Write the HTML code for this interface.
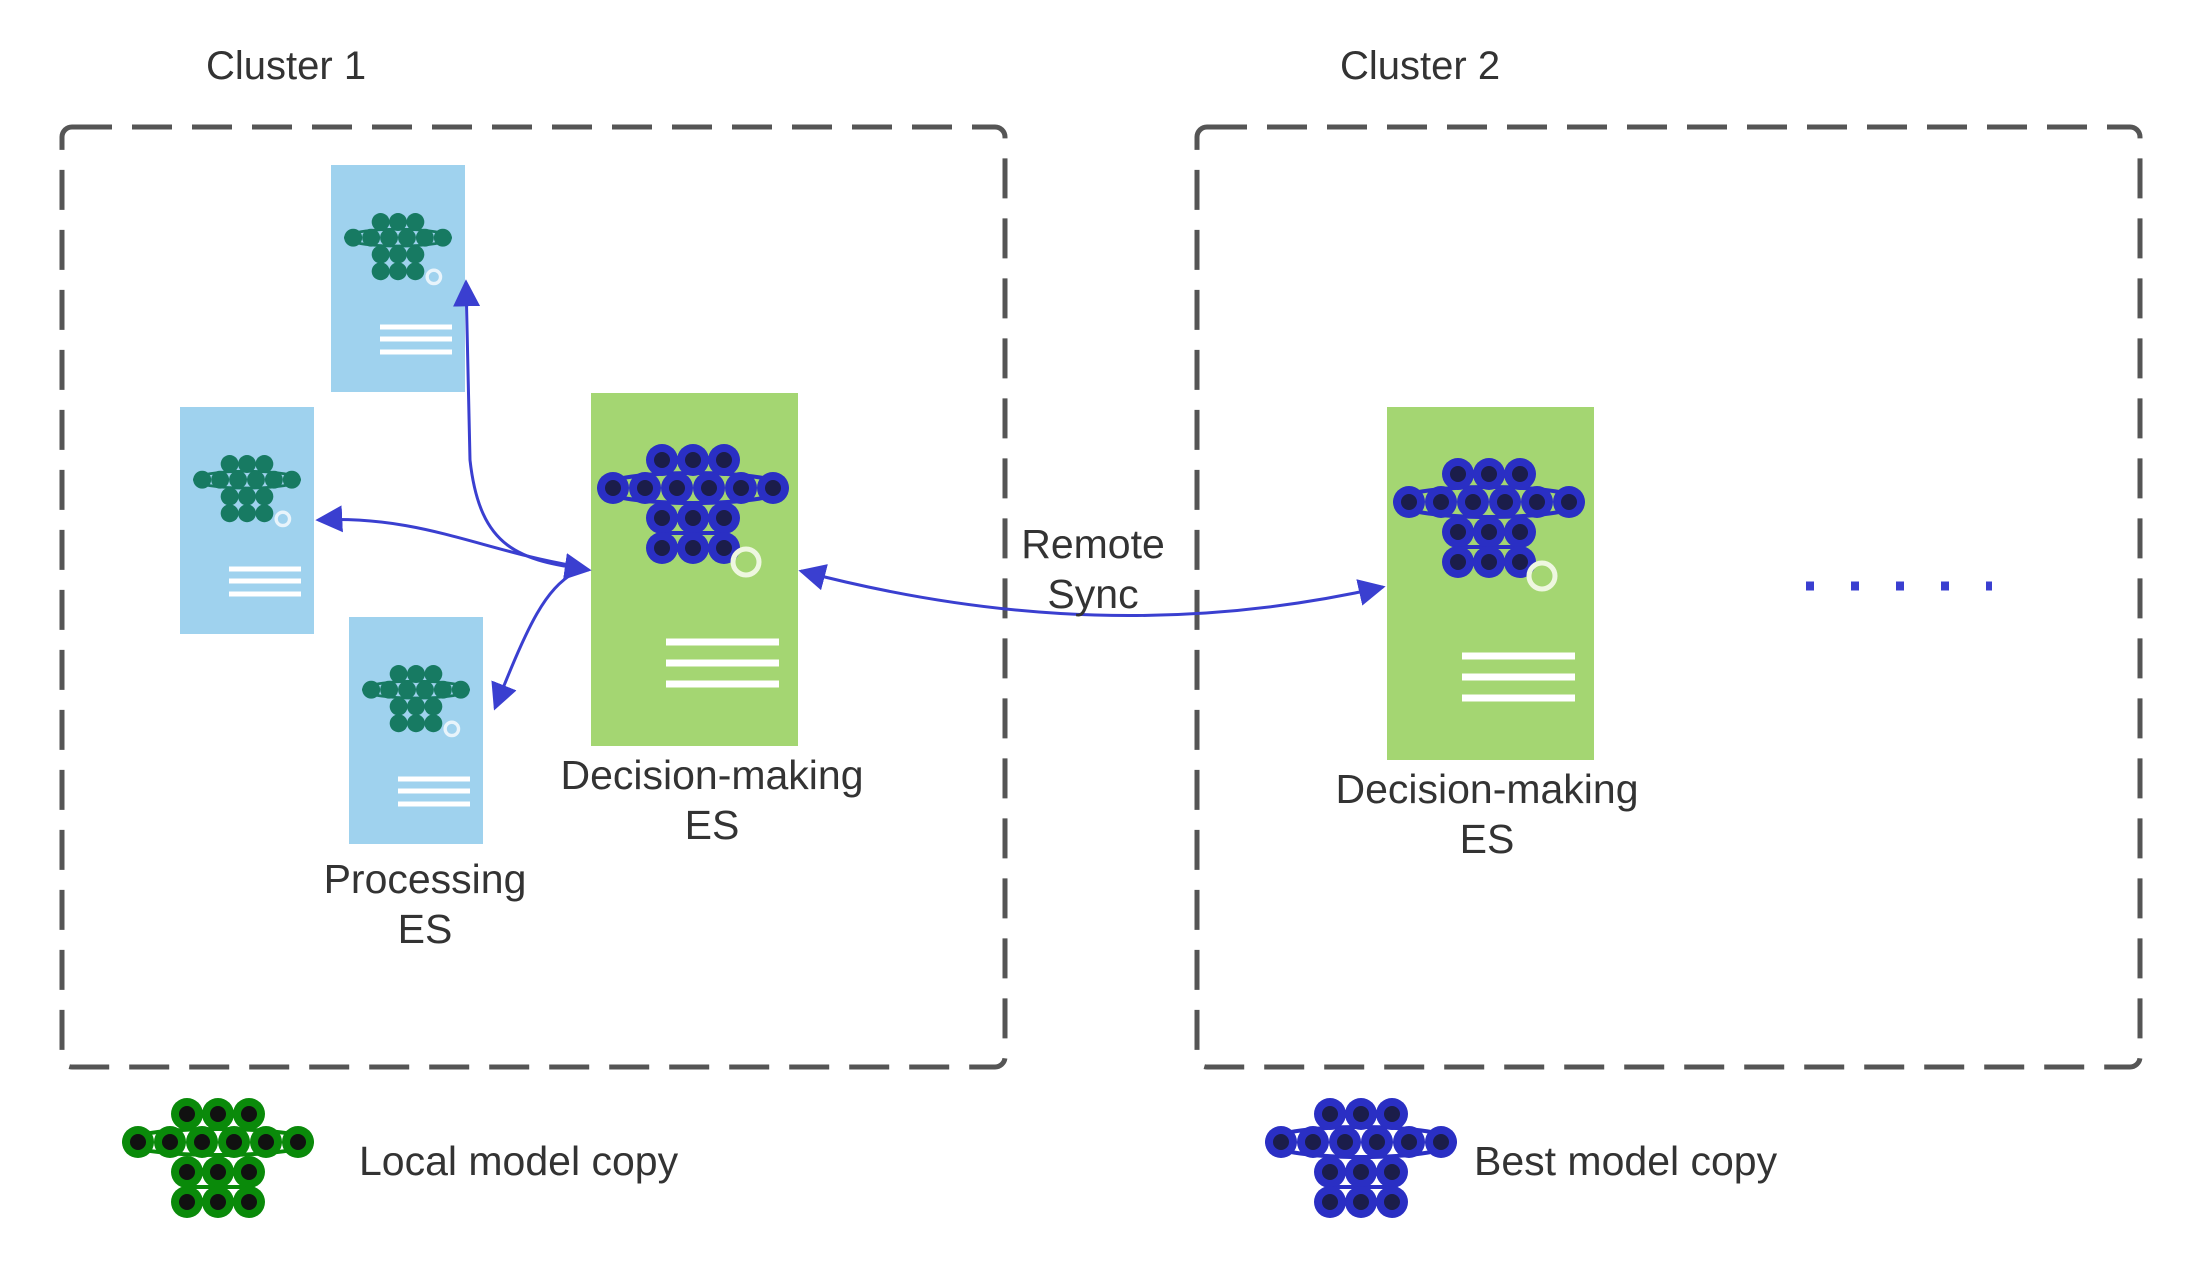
<!DOCTYPE html>
<html><head><meta charset="utf-8"><style>
html,body{margin:0;padding:0;background:#fff;}
svg{display:block;}
text{font-family:"Liberation Sans",sans-serif;fill:#333;}
</style></head><body>
<svg width="2196" height="1269" viewBox="0 0 2196 1269" xmlns="http://www.w3.org/2000/svg">
<defs>
<marker id="ah" viewBox="0 0 10 10" refX="9" refY="5" markerWidth="9" markerHeight="9" markerUnits="strokeWidth" orient="auto-start-reverse">
<path d="M0,0 L10,5 L0,10 z" fill="#3a3fd0"/>
</marker>
<g id="dotsB">
<circle cx="-31" cy="0" r="16"/><circle cx="0" cy="0" r="16"/><circle cx="31" cy="0" r="16"/>
<circle cx="-80" cy="28" r="16"/><circle cx="-48" cy="28" r="16"/><circle cx="-16" cy="28" r="16"/><circle cx="16" cy="28" r="16"/><circle cx="48" cy="28" r="16"/><circle cx="80" cy="28" r="16"/>
<circle cx="-31" cy="58" r="16"/><circle cx="0" cy="58" r="16"/><circle cx="31" cy="58" r="16"/>
<circle cx="-31" cy="88" r="16"/><circle cx="0" cy="88" r="16"/><circle cx="31" cy="88" r="16"/>
</g>
<g id="dotsS">
<circle cx="-31" cy="0" r="8"/><circle cx="0" cy="0" r="8"/><circle cx="31" cy="0" r="8"/>
<circle cx="-80" cy="28" r="8"/><circle cx="-48" cy="28" r="8"/><circle cx="-16" cy="28" r="8"/><circle cx="16" cy="28" r="8"/><circle cx="48" cy="28" r="8"/><circle cx="80" cy="28" r="8"/>
<circle cx="-31" cy="58" r="8"/><circle cx="0" cy="58" r="8"/><circle cx="31" cy="58" r="8"/>
<circle cx="-31" cy="88" r="8"/><circle cx="0" cy="88" r="8"/><circle cx="31" cy="88" r="8"/>
</g>
<g id="netB">
<ellipse cx="0" cy="28" rx="94" ry="15" fill="none" stroke="#2a2fc4" stroke-width="4"/>
<line x1="-31" y1="73" x2="31" y2="73" stroke="#2a2fc4" stroke-width="4"/>
<use href="#dotsB" fill="#2a2fc4"/>
<use href="#dotsS" fill="#1b1d4a"/>
</g>
<g id="netG">
<ellipse cx="0" cy="28" rx="94" ry="13" fill="none" stroke="#0a8a0a" stroke-width="4"/>
<line x1="-31" y1="73" x2="31" y2="73" stroke="#0a8a0a" stroke-width="4"/>
<use href="#dotsB" fill="#0a8a0a"/>
<use href="#dotsS" fill="#111"/>
</g>
<g id="netT">
<ellipse cx="0" cy="28" rx="94" ry="15" fill="none" stroke="#177a62" stroke-width="5"/>
<use href="#dotsB" fill="#177a62"/>
<circle cx="64" cy="98" r="12" fill="none" stroke="#e8f4fb" stroke-width="6"/>
</g>
<g id="blueSrv">
<rect x="0" y="0" width="134" height="227" fill="#9fd2ee"/>
<use href="#netT" transform="translate(67,57) scale(0.56)"/>
<g stroke="#fff" stroke-width="5"><line x1="49" y1="162" x2="121" y2="162"/><line x1="49" y1="174" x2="121" y2="174"/><line x1="49" y1="187" x2="121" y2="187"/></g>
</g>
<g id="greenSrv">
<rect x="0" y="0" width="207" height="353" fill="#a4d672"/>
<use href="#netB" transform="translate(102,67)"/>
<circle cx="155" cy="169" r="13" fill="none" stroke="#eef7e0" stroke-width="5"/>
<g stroke="#fff" stroke-width="7"><line x1="75" y1="249" x2="188" y2="249"/><line x1="75" y1="270" x2="188" y2="270"/><line x1="75" y1="291" x2="188" y2="291"/></g>
</g>
</defs>

<text x="206" y="79" font-size="40">Cluster 1</text>
<text x="1340" y="79" font-size="40">Cluster 2</text>

<rect x="62" y="127" width="943" height="940" rx="10" fill="none" stroke="#555" stroke-width="5" stroke-dasharray="40 20"/>
<rect x="1197" y="127" width="943" height="940" rx="10" fill="none" stroke="#555" stroke-width="5" stroke-dasharray="40 20"/>

<use href="#blueSrv" x="331" y="165"/>
<use href="#blueSrv" x="180" y="407"/>
<use href="#blueSrv" x="349" y="617"/>
<use href="#greenSrv" x="591" y="393"/>
<use href="#greenSrv" x="1387" y="407"/>

<g fill="none" stroke="#3a3fd0" stroke-width="3">
<path d="M589,570 C520,560 480,550 470,460 L466,282" marker-start="url(#ah)" marker-end="url(#ah)"/>
<path d="M575,566 C480,550 420,515 318,520" marker-end="url(#ah)"/>
<path d="M575,572 C545,590 530,620 495,708" marker-end="url(#ah)"/>
<path d="M801,571 C950,610 1150,640 1383,587" marker-start="url(#ah)" marker-end="url(#ah)"/>
</g>

<text x="1093" y="558" font-size="41" text-anchor="middle">Remote</text>
<text x="1093" y="608" font-size="41" text-anchor="middle">Sync</text>

<text x="712" y="789" font-size="41" text-anchor="middle">Decision-making</text>
<text x="712" y="839" font-size="41" text-anchor="middle">ES</text>
<text x="425" y="893" font-size="41" text-anchor="middle">Processing</text>
<text x="425" y="943" font-size="41" text-anchor="middle">ES</text>
<text x="1487" y="803" font-size="41" text-anchor="middle">Decision-making</text>
<text x="1487" y="853" font-size="41" text-anchor="middle">ES</text>

<line x1="1806" y1="586" x2="1992" y2="586" stroke="#3a3fd0" stroke-width="9" stroke-dasharray="8 37"/>

<use href="#netG" transform="translate(218,1114)"/>
<text x="359" y="1175" font-size="41">Local model copy</text>
<use href="#netB" transform="translate(1361,1114)"/>
<text x="1474" y="1175" font-size="41">Best model copy</text>
</svg>
</body></html>
